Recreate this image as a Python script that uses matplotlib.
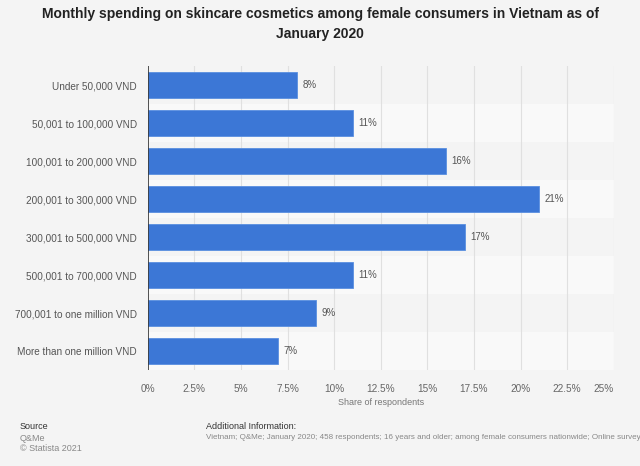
import matplotlib
matplotlib.use("Agg")
import matplotlib.pyplot as plt
import numpy as np

categories = ["Under 50,000 VND", "50,001 to 100,000 VND", "100,001 to 200,000 VND",
              "200,001 to 300,000 VND", "300,001 to 500,000 VND", "500,001 to 700,000 VND",
              "700,001 to one million VND", "More than one million VND"]
values = [8, 11, 16, 21, 17, 11, 9, 7]
xticks = [0, 2.5, 5, 7.5, 10, 12.5, 15, 17.5, 20, 22.5, 25]
xticklabels = ["0%", "2.5%", "5%", "7.5%", "10%", "12.5%", "15%", "17.5%", "20%", "22.5%", "25%"]

plt.rcParams['font.family'] = ['Liberation Sans', 'DejaVu Sans']
bg = "#f4f4f4"
fig = plt.figure(figsize=(6.4, 4.66), dpi=100, facecolor=bg)
ax = fig.add_axes([0.231, 0.206, 0.728, 0.652])
ax.set_facecolor(bg)

n = len(categories)
y = np.arange(n)
for i in range(n):
    if i % 2 == 1:
        ax.axhspan(i - 0.5, i + 0.5, color="#f9f9f9", zorder=0, lw=0)
for t in xticks[1:]:
    ax.axvline(t, color="#e0e0e0", lw=0.8, zorder=1)

ax.barh(y, values, height=0.68, color="#3c77d6", edgecolor="#5a8fe0", linewidth=0.6, zorder=2)
for yi, v in zip(y, values):
    ax.text(v + 0.3, yi, f"{v}%", va="center", ha="left", fontsize=7, color="#555555", zorder=3)

ax.set_ylim(n - 0.5, -0.5)
ax.set_xlim(0, 25)
ax.set_yticks(y)
ax.set_yticklabels(categories, fontsize=7.2, color="#555555")
ax.set_xticks(xticks)
ax.set_xticklabels(xticklabels, fontsize=7.2, color="#666666")
ax.get_xticklabels()[-1].set_horizontalalignment("right")
ax.tick_params(axis="both", length=0, pad=8)
ax.tick_params(axis="x", pad=10)
for s in ax.spines.values():
    s.set_visible(False)
ax.axvline(0, color="#333333", lw=1.2, zorder=4)
ax.set_xlabel("Share of respondents", fontsize=6.5, color="#777777", labelpad=3)

fig.text(0.5, 0.985, "Monthly spending on skincare cosmetics among female consumers in Vietnam as of\nJanuary 2020",
         ha="center", va="top", fontsize=10, fontweight="bold", color="#222222", linespacing=1.55)

fig.text(0.031, 0.085, "Source", fontsize=6.5, color="#333333", va="center")
fig.text(0.031, 0.060, "Q&Me", fontsize=6.5, color="#888888", va="center")
fig.text(0.031, 0.038, "\u00a9 Statista 2021", fontsize=6.5, color="#888888", va="center")
fig.text(0.322, 0.085, "Additional Information:", fontsize=6.5, color="#333333", va="center")
fig.text(0.322, 0.062, "Vietnam; Q&Me; January 2020; 458 respondents; 16 years and older; among female consumers nationwide; Online survey",
         fontsize=5.8, color="#888888", va="center")

fig.savefig("out.png", dpi=100, facecolor=bg)
